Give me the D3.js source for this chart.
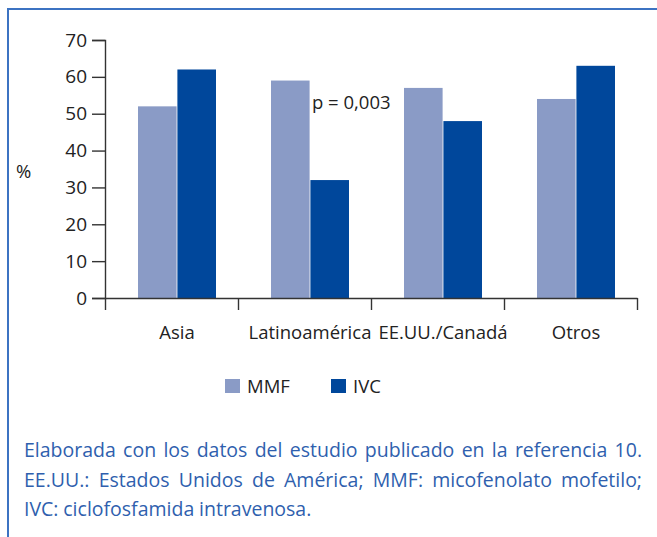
<!DOCTYPE html>
<html>
<head>
<meta charset="utf-8">
<script src="https://cdn.jsdelivr.net/npm/d3@7"></script>
<style>
  html, body { margin: 0; padding: 0; background: #fff; }
  svg { display: block; font-family: "Open Sans", "Noto Sans", sans-serif; }
</style>
</head>
<body>
<div id="chart"></div>
<script>
// Data
const categories = ['Asia', 'Latinoamérica', 'EE.UU./Canadá', 'Otros'];
const seriesNames = ['MMF', 'IVC'];
const mmfValues = [52, 59, 57, 54];
const ivcValues = [62, 32, 48, 63];
const yTicks = [0, 10, 20, 30, 40, 50, 60, 70];
const captionLines = [
  'Elaborada con los datos del estudio publicado en la referencia 10.',
  'EE.UU.: Estados Unidos de América; MMF: micofenolato mofetilo;',
  'IVC: ciclofosfamida intravenosa.'
];

(function() {
  const W = 657, H = 537;
  const plot = { left: 105, right: 637, top: 40, bottom: 298 };
  const colors = { MMF: '#8a9bc6', IVC: '#00479b' };
  const textColor = '#222';

  const svg = d3.select('#chart').append('svg')
    .attr('width', W)
    .attr('height', H);

  // Frame (top and left border only)
  svg.append('path')
    .attr('d', `M8,${H} L8,9 L${W},9`)
    .attr('fill', 'none')
    .attr('stroke', '#3c73c2')
    .attr('stroke-width', 2);

  // Scales
  const x0 = d3.scaleBand()
    .domain(categories)
    .range([plot.left, plot.right])
    .padding(0);

  const x1 = d3.scaleBand()
    .domain(seriesNames)
    .range([33, 111])
    .paddingInner(0.02);

  const y = d3.scaleLinear()
    .domain([0, 70])
    .range([plot.bottom, plot.top]);

  const rows = categories.map((c, i) => ({ cat: c, MMF: mmfValues[i], IVC: ivcValues[i] }));

  // Bars
  const groups = svg.selectAll('.grp')
    .data(rows)
    .enter()
    .append('g')
    .attr('class', 'grp')
    .attr('transform', d => `translate(${x0(d.cat)},0)`);

  groups.selectAll('rect')
    .data(d => seriesNames.map(s => ({ key: s, value: d[s] })))
    .enter()
    .append('rect')
    .attr('x', d => x1(d.key))
    .attr('width', x1.bandwidth())
    .attr('y', d => y(d.value))
    .attr('height', d => y(0) - y(d.value))
    .attr('fill', d => colors[d.key]);

  // Y axis
  const yAxis = svg.append('g')
    .attr('transform', `translate(${plot.left},0)`)
    .call(d3.axisLeft(y).tickValues(yTicks).tickSize(13).tickPadding(5));
  yAxis.select('.domain').attr('stroke', '#333').attr('stroke-width', 1.4);
  yAxis.selectAll('.tick line').attr('stroke', '#333').attr('stroke-width', 1.4);
  yAxis.selectAll('.tick text')
    .attr('fill', textColor)
    .style('font-size', '19px')
    .style('font-family', '"Open Sans", sans-serif');

  // X axis: ticks at category boundaries
  const xAxis = svg.append('g')
    .attr('transform', `translate(0,${plot.bottom})`)
    .call(d3.axisBottom(d3.scaleLinear().domain([0, 4]).range([plot.left, plot.right]))
      .tickValues([0, 1, 2, 3, 4])
      .tickSize(12)
      .tickSizeOuter(0)
      .tickFormat(''));
  xAxis.select('.domain').attr('stroke', '#333').attr('stroke-width', 1.4);
  xAxis.selectAll('.tick line').attr('stroke', '#333').attr('stroke-width', 1.4);

  // Category labels centred under each bar pair
  svg.selectAll('.cat-label')
    .data(categories)
    .enter()
    .append('text')
    .attr('class', 'cat-label')
    .attr('x', d => x0(d) + (x1.range()[0] + x1.range()[1]) / 2)
    .attr('y', 339)
    .attr('text-anchor', 'middle')
    .attr('fill', textColor)
    .style('font-size', '18.5px')
    .text(d => d);

  // % label
  svg.append('text')
    .attr('x', 16)
    .attr('y', 178)
    .attr('fill', textColor)
    .style('font-size', '18.5px')
    .text('%');

  // Annotation
  svg.append('text')
    .attr('x', 312)
    .attr('y', 109)
    .attr('fill', textColor)
    .style('font-size', '18.5px')
    .text('p = 0,003');

  // Legend
  const legend = svg.append('g').attr('transform', 'translate(225,379)');
  const legendX = [0, 106];
  const items = legend.selectAll('.leg')
    .data(seriesNames)
    .enter()
    .append('g')
    .attr('class', 'leg')
    .attr('transform', (d, i) => `translate(${legendX[i]},0)`);
  items.append('rect')
    .attr('width', 15)
    .attr('height', 14)
    .attr('fill', d => colors[d]);
  items.append('text')
    .attr('x', 22)
    .attr('y', 14)
    .attr('fill', textColor)
    .style('font-size', '18.5px')
    .text(d => d);

  // Caption, first two lines justified
  const capLeft = 24, capRight = 642;
  const capBase = [457, 487, 516];
  captionLines.forEach((line, li) => {
    const t = svg.append('text')
      .attr('y', capBase[li])
      .attr('fill', '#2f5fae')
      .style('font-size', '19.5px');
    const words = line.split(' ');
    const spans = words.map(w => t.append('tspan').text(w));
    const widths = spans.map(s => s.node().getComputedTextLength());
    const total = d3.sum(widths);
    const justify = li < captionLines.length - 1;
    const gap = justify ? (capRight - capLeft - total) / (words.length - 1) : 4.8;
    let cx = capLeft;
    spans.forEach((s, i) => {
      s.attr('x', cx);
      cx += widths[i] + gap;
    });
  });
})();
</script>
</body>
</html>
